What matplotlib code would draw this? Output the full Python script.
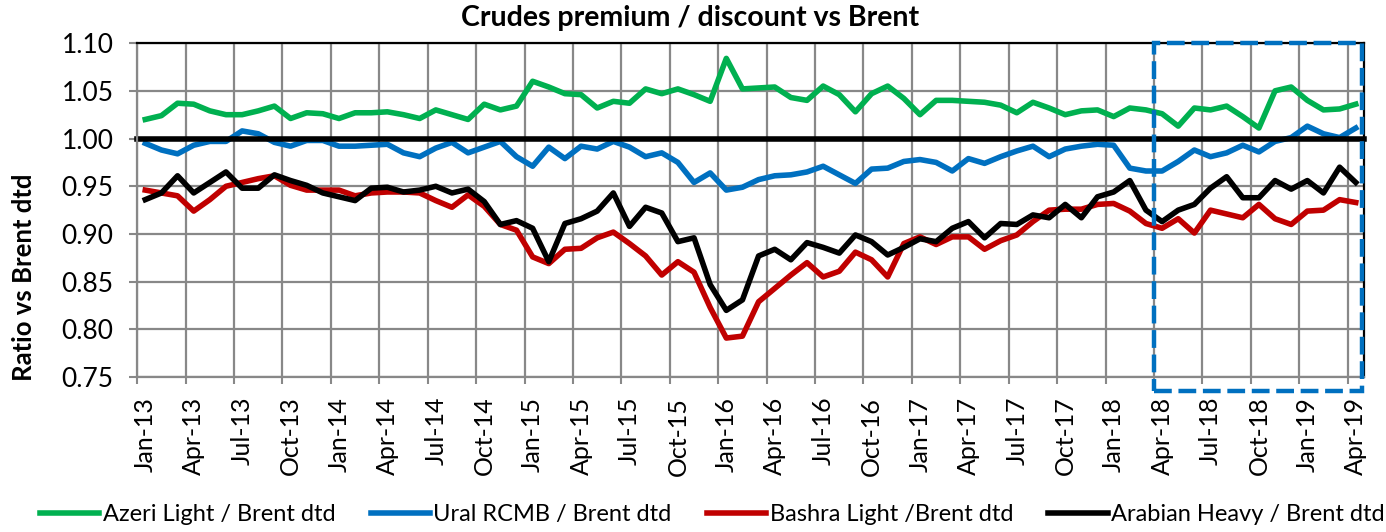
import matplotlib.pyplot as plt
from matplotlib.patches import Rectangle
import matplotlib.transforms as mtransforms

plt.rcParams['font.family'] = ['Lato', 'DejaVu Sans']

# monthly, Jan-13 .. Apr-19
years = range(13, 20)
mon = ['Jan', 'Feb', 'Mar', 'Apr', 'May', 'Jun', 'Jul', 'Aug', 'Sep', 'Oct', 'Nov', 'Dec']
months = [f"{m}-{y}" for y in years for m in mon][:76]

azeri = [1.020, 1.024, 1.037, 1.036, 1.029, 1.025, 1.025, 1.029, 1.034, 1.021, 1.027, 1.026, 1.021, 1.027, 1.027, 1.028, 1.025, 1.021, 1.030,
         1.025, 1.020, 1.036, 1.030, 1.034, 1.060, 1.054, 1.047, 1.046, 1.032, 1.039, 1.037, 1.052, 1.047, 1.052, 1.046, 1.039, 1.084,
         1.052, 1.053, 1.054, 1.043, 1.040, 1.055, 1.046, 1.028, 1.047, 1.055, 1.042, 1.025, 1.040, 1.040, 1.039, 1.038, 1.035, 1.027, 1.038,
         1.032, 1.025, 1.029, 1.030, 1.023, 1.032, 1.030, 1.026, 1.013, 1.032, 1.030, 1.034, 1.023, 1.011, 1.050, 1.054, 1.040, 1.030, 1.031, 1.036]
ural = [0.995, 0.988, 0.984, 0.993, 0.997, 0.997, 1.008, 1.005, 0.996, 0.992, 0.998, 0.998, 0.992, 0.992, 0.993, 0.994, 0.985, 0.981, 0.990,
        0.996, 0.985, 0.991, 0.997, 0.981, 0.971, 0.991, 0.979, 0.992, 0.989, 0.997, 0.991, 0.981, 0.985, 0.975, 0.954, 0.964, 0.946,
        0.949, 0.957, 0.961, 0.962, 0.965, 0.971, 0.962, 0.953, 0.968, 0.969, 0.976, 0.978, 0.975, 0.966, 0.979, 0.974, 0.981, 0.987, 0.992,
        0.981, 0.989, 0.992, 0.994, 0.993, 0.969, 0.966, 0.966, 0.976, 0.988, 0.981, 0.985, 0.993, 0.986, 0.997, 1.001, 1.013, 1.005, 1.001, 1.011]
bashra = [0.946, 0.943, 0.940, 0.924, 0.936, 0.950, 0.954, 0.958, 0.961, 0.951, 0.946, 0.946, 0.946, 0.940, 0.943, 0.944, 0.944, 0.943, 0.935,
          0.928, 0.941, 0.929, 0.910, 0.904, 0.876, 0.869, 0.884, 0.885, 0.896, 0.902, 0.890, 0.877, 0.857, 0.871, 0.860, 0.823, 0.791,
          0.793, 0.829, 0.843, 0.857, 0.870, 0.855, 0.861, 0.881, 0.873, 0.855, 0.890, 0.897, 0.889, 0.897, 0.897, 0.884, 0.893, 0.899, 0.913,
          0.925, 0.926, 0.926, 0.931, 0.932, 0.924, 0.911, 0.906, 0.916, 0.901, 0.925, 0.921, 0.917, 0.931, 0.916, 0.910, 0.924, 0.925, 0.936, 0.933]
arab_heavy = [0.936, 0.943, 0.961, 0.943, 0.954, 0.965, 0.948, 0.948, 0.962, 0.956, 0.951, 0.943, 0.939, 0.935, 0.948, 0.949, 0.944, 0.946, 0.950,
              0.943, 0.947, 0.934, 0.910, 0.914, 0.906, 0.871, 0.911, 0.916, 0.924, 0.943, 0.908, 0.928, 0.922, 0.892, 0.896, 0.847, 0.820,
              0.831, 0.877, 0.884, 0.873, 0.891, 0.886, 0.880, 0.899, 0.892, 0.878, 0.886, 0.895, 0.892, 0.906, 0.913, 0.896, 0.911, 0.910, 0.920,
              0.917, 0.931, 0.917, 0.939, 0.944, 0.956, 0.925, 0.913, 0.925, 0.931, 0.948, 0.960, 0.938, 0.938, 0.956, 0.947, 0.956, 0.943, 0.970, 0.954]

x = list(range(len(months)))
lw = 4.0

fig = plt.figure(figsize=(13.86, 5.32), dpi=100)
ax = fig.add_axes([0.099, 0.291, 0.885, 0.628])

ax.plot(x, azeri, color='#00B050', lw=lw, label='Azeri Light / Brent dtd')
ax.plot(x, ural, color='#0070C0', lw=lw, label='Ural RCMB / Brent dtd')
ax.axhline(1.0, color='black', lw=lw, clip_on=False)
ax.plot(x, bashra, color='#C00000', lw=lw, label='Bashra Light /Brent dtd')
ax.plot(x, arab_heavy, color='black', lw=lw, label='Arabian Heavy / Brent dtd')

ax.set_xlim(-0.5, len(months) - 0.5)
ax.set_ylim(0.75, 1.10)
ax.set_yticks([0.75 + 0.05 * k for k in range(8)])
ax.set_yticklabels([f"{0.75 + 0.05 * k:.2f}" for k in range(8)], fontsize=19)

ax.set_xticks(x[::3])
ax.set_xticklabels(months[::3], rotation=90, fontsize=18)
ax.set_xticks([-0.5 + 3 * k for k in range(26)], minor=True)
ax.tick_params(axis='x', which='major', length=0, pad=14)
ax.tick_params(axis='x', which='minor', length=5, color='#888888', width=1.5)
ax.tick_params(axis='y', length=6, color='#888888', width=1.5, pad=11)

ax.grid(axis='y', color='#888888', lw=1.6)
ax.grid(axis='x', which='minor', color='#888888', lw=1.6)
ax.set_axisbelow(True)

for s in ['left', 'bottom']:
    ax.spines[s].set_color('#888888')
    ax.spines[s].set_linewidth(1.6)
for s in ['top', 'right']:
    ax.spines[s].set_color('black')
    ax.spines[s].set_linewidth(1.6)

# highlighted period
trans = mtransforms.blended_transform_factory(ax.transData, ax.transAxes)
ax.add_patch(Rectangle((62.5, -0.042), 12.9, 1.042, transform=trans, fill=False,
                       edgecolor='#0070C0', lw=3.2, linestyle=(0, (4, 1.5)),
                       clip_on=False, zorder=10))

fig.text(0.498, 0.966, 'Crudes premium / discount vs Brent', ha='center', va='center',
         fontsize=20.5, fontweight='bold')
fig.text(0.017, 0.479, 'Ratio vs Brent dtd', rotation=90, ha='center', va='center',
         fontsize=18.5, fontweight='bold')

fig.legend(loc='center', bbox_to_anchor=(0.514, 0.032), ncol=4, frameon=False,
           fontsize=17, handlelength=2.5, handletextpad=0.15, columnspacing=1.5)

fig.savefig('out.png', dpi=100)
